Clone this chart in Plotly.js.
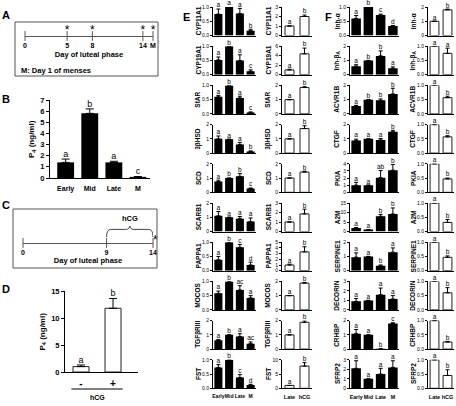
<!DOCTYPE html>
<html><head><meta charset="utf-8">
<script src="https://cdn.plot.ly/plotly-3.0.1.min.js"></script>
<style>html,body{margin:0;padding:0;background:#fff}#c{width:456px;height:406px}</style>
</head><body><div id="c"></div>
<script>
// ---------------- DATA ----------------
const timelineATicks = [0, 5, 8, 14, 15.2];
const timelineALabels = ['0', '5', '8', '14', 'M'];
const samplingDaysA = [5, 8, 14, 15.2];

const timelineCTicks = [0, 9, 14];
const timelineCLabels = ['0', '9', '14'];
const hcgStartDay = 9;
const hcgEndDay = 14;
const samplingDayC = [14];

const phases = ['Early', 'Mid', 'Late', 'M'];
const p4Luteal = [1.4, 5.8, 1.4, 0.1];
const p4LutealErr = [0.3, 0.4, 0.1, 0.03];
const p4LutealLetters = ['a', 'b', 'a', 'c'];

const hcgGroups = ['-', '+'];
const p4Hcg = [1.0, 11.8];
const p4HcgErr = [0.3, 1.8];
const p4HcgLetters = ['a', 'b'];

const treatGroups = ['Late', 'hCG'];

const eGenes = ['CYP11A1', 'CYP19A1', 'StAR', '3βHSD', 'SCD', 'SCARB1', 'PAPPA1', 'MOCOS', 'TGFβRIII', 'FST'];
const eCycleMean = [
  [0.75, 1.00, 0.77, 0.17],
  [0.52, 1.00, 0.50, 0.12],
  [0.60, 1.00, 0.56, 0.05],
  [1.00, 0.97, 0.60, 0.12],
  [0.75, 1.00, 1.12, 0.27],
  [1.10, 1.00, 0.90, 0.70],
  [0.38, 1.00, 0.82, 0.20],
  [0.58, 1.00, 0.70, 0.42],
  [0.62, 1.00, 0.88, 0.38],
  [0.73, 1.00, 0.38, 0.12]];
const eCycleSem = [
  [0.18, 0, 0.18, 0.05],
  [0.10, 0, 0.20, 0.05],
  [0.05, 0, 0.06, 0.02],
  [0.20, 0, 0.15, 0.03],
  [0.10, 0, 0.20, 0.03],
  [0.30, 0, 0.15, 0.25],
  [0.12, 0, 0.10, 0.10],
  [0.08, 0, 0.15, 0.08],
  [0.05, 0, 0.20, 0.12],
  [0.10, 0, 0.10, 0.02]];
const eCycleLetters = [
  ['a', 'a', 'a', 'b'], ['a', 'b', 'a', 'c'], ['a', 'b', 'a', 'c'], ['a', 'a', 'a', 'b'], ['a', 'b', 'b', 'c'],
  ['a', 'a', 'a', 'a'], ['a', 'b', 'c', 'd'], ['a', 'b', 'ac', 'a'], ['a', 'b', 'a', 'ac'], ['a', 'b', 'c', 'd']];
const eCycleAxisMax = [1, 1, 1, 2, 2, 2, 1, 1, 2, 1];

const eHcgMean = [[1, 2.0], [1, 4.4], [1, 1.85], [1, 1.72], [1, 1.42], [1, 1.85], [1, 3.3], [1, 1.88], [1, 1.88], [1, 7.8]];
const eHcgSem = [[0, 0.15], [0.15, 1.2], [0, 0.06], [0, 0.2], [0, 0.06], [0, 0.5], [0.15, 0.9], [0, 0.05], [0, 0.1], [0, 1.2]];
const eHcgLetters = [['a', 'b'], ['a', 'b'], ['a', 'b'], ['a', 'b'], ['a', 'b'], ['a', 'b'], ['a', 'b'], ['a', 'b'], ['a', 'b'], ['a', 'b']];
const eHcgAxisMax = [3, 6, 2, 2, 2, 3, 5, 2, 2, 10];

const fGenes = ['Inh-α', 'Inh-β<sub>A</sub>', 'ACVR1B', 'CTGF', 'PKIA', 'A2M', 'SERPINE1', 'DECORIN', 'CRHBP', 'SFRP2'];
const fCycleMean = [
  [0.60, 1.00, 0.72, 0.33],
  [0.60, 1.00, 1.32, 0.45],
  [0.55, 1.00, 0.95, 1.40],
  [0.88, 1.00, 0.92, 1.50],
  [1.00, 1.00, 2.05, 3.10],
  [1.80, 1.00, 8.00, 9.20],
  [0.95, 1.00, 0.35, 1.30],
  [0.90, 1.00, 1.60, 1.15],
  [1.08, 1.00, 0.02, 1.80],
  [2.10, 1.00, 1.50, 2.20]];
const fCycleSem = [
  [0.10, 0, 0.03, 0.02],
  [0.10, 0, 0.35, 0.10],
  [0.05, 0, 0.10, 0.40],
  [0.10, 0, 0.10, 0.10],
  [0.40, 0, 1.00, 0.80],
  [0.30, 0, 1.00, 3.20],
  [0.30, 0, 0.05, 0.30],
  [0.30, 0, 0.70, 0.35],
  [0.30, 0, 0.00, 0.05],
  [0.80, 0, 0.60, 0.70]];
const fCycleLetters = [
  ['a', 'b', 'c', 'd'], ['a', 'b', 'b', 'a'], ['a', 'b', 'b', 'b'], ['a', 'a', 'a', 'b'], ['a', 'a', 'ab', 'b'],
  ['a', 'a', 'b', 'b'], ['a', 'a', 'b', 'a'], ['a', 'a', 'a', 'a'], ['a', 'a', 'b', 'c'], ['a', 'a', 'a', 'a']];
const fCycleAxisMax = [1, 2, 2, 2, 4, 15, 2, 3, 2, 3];

const fHcgMean = [[1, 1.8], [1, 0.75], [1, 0.57], [1, 0.57], [1, 0.47], [1, 0.32], [1, 0.47], [1, 0.6], [1, 0.25], [1, 0.45]];
const fHcgSem = [[0, 0.05], [0, 0.18], [0, 0.05], [0, 0.04], [0, 0.03], [0, 0.1], [0, 0.05], [0, 0.18], [0, 0.02], [0, 0.2]];
const fHcgLetters = [['a', 'b'], ['a', 'a'], ['a', 'b'], ['a', 'b'], ['a', 'b'], ['a', 'b'], ['a', 'b'], ['a', 'b'], ['a', 'b'], ['a', 'b']];
const fHcgAxisMax = [2, 1, 1, 1, 1, 1, 1, 1, 1, 1];

// ---------------- LAYOUT HELPERS ----------------
const FONT = 'Liberation Sans, Arial, Helvetica, sans-serif';
const W = 456, H = 406;
const px = x => x / W;
const py = y => 1 - y / H;
const data = [];
const layout = {
  width: W, height: H, margin: {l: 0, r: 0, t: 0, b: 0},
  paper_bgcolor: '#fff', plot_bgcolor: 'rgba(0,0,0,0)', showlegend: false,
  colorway: ['#000'],
  font: {family: FONT, color: '#000'}, shapes: [], annotations: []
};
let axN = 0;
function addAxes(x0, x1, yTop, yBot, xo, yo) {
  axN++;
  const s = axN === 1 ? '' : String(axN);
  layout['xaxis' + s] = Object.assign({domain: [px(x0), px(x1)], anchor: 'y' + s, showgrid: false, zeroline: false, fixedrange: true, automargin: false, tickangle: 0}, xo);
  layout['yaxis' + s] = Object.assign({domain: [py(yBot), py(yTop)], anchor: 'x' + s, showgrid: false, zeroline: false, fixedrange: true, automargin: false}, yo);
  return {xa: 'x' + s, ya: 'y' + s};
}
function ann(text, x, y, size, opts) {
  layout.annotations.push(Object.assign({text: text, x: px(x), y: py(y), xref: 'paper', yref: 'paper', showarrow: false,
    font: {family: FONT, size: size, color: '#000', weight: 'bold'}, xanchor: 'center', yanchor: 'middle'}, opts || {}));
}
function tickStep(max) { return max <= 1 ? 0.5 : max <= 5 ? 1 : max <= 6 ? 2 : 5; }

function barPanel(o) {
  const step = o.step || tickStep(o.max);
  const tv = [];
  for (let v = 0; v <= o.max + 1e-9; v += step) tv.push(+v.toFixed(3));
  const ax = addAxes(o.x0, o.x1, o.yTop, o.yBot, {
    type: 'category', range: o.xrange || [-0.5, o.cats.length - 0.5], showline: true, linecolor: '#000', linewidth: 1,
    ticks: '', showticklabels: !!o.showCats, ticklabelstandoff: o.catStandoff || 2,
    tickfont: {size: o.catSize || 6, family: FONT, weight: 'bold', color: '#000'}
  }, {
    range: [0, o.max], showline: true, linecolor: '#000', linewidth: 1, ticks: 'outside', ticklen: o.tickLen || 2,
    tickwidth: 1, tickcolor: '#000', tickvals: tv, ticktext: tv.map(v => o.max <= 1 ? v.toFixed(1) : String(v)),
    tickfont: {size: o.tickSize || 5, family: FONT, weight: o.tickWeight || 'normal', color: '#000'}
  });
  const white = o.fill !== '#000';
  data.push({type: 'bar', x: o.cats, y: o.vals, xaxis: ax.xa, yaxis: ax.ya, width: o.width,
    marker: {color: o.fill, line: {color: '#222', width: white ? 1 : 0}},
    error_y: {type: 'data', array: o.errs, arrayminus: o.errs.map(() => 0), symmetric: false, color: '#000', thickness: 1, width: o.capW || 2},
    cliponaxis: false, hoverinfo: 'skip'});
  data.push({type: 'scatter', mode: 'text', x: o.cats, y: o.vals.map((v, i) => v + o.errs[i]), text: o.letters,
    textposition: 'top center', textfont: {size: o.letterSize || 6.5, family: FONT, color: '#000'},
    marker: {color: '#000'}, xaxis: ax.xa, yaxis: ax.ya, cliponaxis: false, hoverinfo: 'skip'});
  if (o.label) ann(o.label, o.labelX, (o.yTop + o.yBot) / 2, o.labelSize || 6.5, {textangle: -90});
  return ax;
}

// ---------------- PANEL A (timeline) ----------------
ann('A', 6, 15, 11);
layout.shapes.push({type: 'rect', xref: 'paper', yref: 'paper', x0: px(15), x1: px(158), y0: py(22), y1: py(76), line: {color: '#555', width: 1}});
const axA = addAxes(25, 153, 27, 36, {
  range: [0, 15.2], showline: true, linecolor: '#555', linewidth: 1, ticks: '', tickvals: timelineATicks, ticktext: timelineALabels,
  tickfont: {size: 7, family: FONT, weight: 'bold', color: '#000'}, ticklabelstandoff: 3,
  title: {text: 'Day of luteal phase', font: {size: 7.5, family: FONT, weight: 'bold', color: '#000'}, standoff: 3}
}, {range: [0, 1], visible: false});
data.push({type: 'scatter', mode: 'markers', x: timelineATicks, y: timelineATicks.map(() => 0), xaxis: axA.xa, yaxis: axA.ya,
  marker: {symbol: 'line-ns', size: 7, line: {color: '#555', width: 1}}, cliponaxis: false, hoverinfo: 'skip'});
data.push({type: 'scatter', mode: 'text', x: samplingDaysA, y: samplingDaysA.map(() => 0.55), text: samplingDaysA.map(() => '*'),
  textposition: 'middle center', textfont: {size: 12, family: FONT, color: '#000'}, xaxis: axA.xa, yaxis: axA.ya, cliponaxis: false, hoverinfo: 'skip'});
ann('M: Day 1 of menses', 19, 70, 7.5, {xanchor: 'left'});

// ---------------- PANEL B ----------------
ann('B', 6, 99, 11);
barPanel({x0: 50, x1: 150, yTop: 100, yBot: 178, cats: phases, vals: p4Luteal, errs: p4LutealErr, letters: p4LutealLetters,
  max: 7, step: 1, fill: '#000', width: 0.7, xrange: [-0.65, 3.5], showCats: true, catSize: 7, catStandoff: 4, tickSize: 7.5, tickWeight: 'bold',
  tickLen: 3, letterSize: 9, capW: 4, label: 'P<sub>4</sub> (ng/ml)', labelX: 32, labelSize: 8});

// ---------------- PANEL C (timeline with hCG) ----------------
ann('C', 6, 205, 11);
layout.shapes.push({type: 'rect', xref: 'paper', yref: 'paper', x0: px(13), x1: px(157), y0: py(209), y1: py(268), line: {color: '#555', width: 1}});
const axC = addAxes(23, 153, 226, 243, {
  range: [0, 14], showline: true, linecolor: '#555', linewidth: 1, ticks: '', tickvals: timelineCTicks, ticktext: timelineCLabels,
  tickfont: {size: 7, family: FONT, weight: 'bold', color: '#000'}, ticklabelstandoff: 3,
  title: {text: 'Day of luteal phase', font: {size: 7.5, family: FONT, weight: 'bold', color: '#000'}, standoff: 2}
}, {range: [0, 1], visible: false});
data.push({type: 'scatter', mode: 'markers', x: timelineCTicks, y: timelineCTicks.map(() => 0), xaxis: axC.xa, yaxis: axC.ya,
  marker: {symbol: 'line-ns', size: 7, line: {color: '#555', width: 1}}, cliponaxis: false, hoverinfo: 'skip'});
data.push({type: 'scatter', mode: 'text', x: samplingDayC, y: samplingDayC.map(() => 0.1), text: ['*'],
  textposition: 'middle right', textfont: {size: 12, family: FONT, color: '#000'}, xaxis: axC.xa, yaxis: axC.ya, cliponaxis: false, hoverinfo: 'skip'});
(function () {
  const s = hcgStartDay, e = hcgEndDay, m = (s + e) / 2, lo = 0.35, mid = 0.8, tip = 1.05, r = 0.45;
  layout.shapes.push({type: 'path', xref: axC.xa, yref: axC.ya, line: {color: '#444', width: 1},
    path: `M ${s},${lo} Q ${s},${mid} ${s + r},${mid} L ${m - r},${mid} Q ${m},${mid} ${m},${tip} Q ${m},${mid} ${m + r},${mid} L ${e - r},${mid} Q ${e},${mid} ${e},${lo}`});
  layout.annotations.push({text: 'hCG', x: m, xref: axC.xa, y: py(219), yref: 'paper', showarrow: false, yanchor: 'middle',
    font: {family: FONT, size: 7.5, weight: 'bold', color: '#000'}});
})();

// ---------------- PANEL D ----------------
ann('D', 6, 289, 11);
const axD = barPanel({x0: 65, x1: 138, yTop: 291, yBot: 372, cats: hcgGroups, vals: p4Hcg, errs: p4HcgErr, letters: p4HcgLetters,
  max: 15, step: 5, fill: '#fff', width: 0.5, xrange: [-0.5, 1.78], showCats: true, catSize: 10, catStandoff: 2, tickSize: 7.5, tickWeight: 'bold',
  tickLen: 3, letterSize: 9, capW: 4, label: 'P<sub>4</sub> (ng/ml)', labelX: 42, labelSize: 8});
layout.shapes.push({type: 'line', xref: axD.xa, yref: 'paper', x0: -0.3, x1: 1.3, y0: py(389), y1: py(389), line: {color: '#000', width: 1}});
layout.annotations.push({text: 'hCG', x: 0.5, xref: axD.xa, y: py(397), yref: 'paper', showarrow: false, yanchor: 'middle',
  font: {family: FONT, size: 7, weight: 'bold', color: '#000'}});

// ---------------- PANELS E & F (gene grids) ----------------
ann('E', 186, 17, 11);
ann('F', 328, 17, 11);
const ROW_TOP = 7, ROW_PITCH = 39.2, ROW_H = 28.5;
const cols = [
  {x0: 213, x1: 256, labelX: 198, genes: eGenes, mean: eCycleMean, sem: eCycleSem, let: eCycleLetters, max: eCycleAxisMax, cats: phases, fill: '#000', width: 0.75, catSize: 5},
  {x0: 282, x1: 312, labelX: 268, genes: eGenes, mean: eHcgMean, sem: eHcgSem, let: eHcgLetters, max: eHcgAxisMax, cats: treatGroups, fill: '#fff', width: 0.6, catSize: 5.5},
  {x0: 350, x1: 399, labelX: 337, genes: fGenes, mean: fCycleMean, sem: fCycleSem, let: fCycleLetters, max: fCycleAxisMax, cats: phases, fill: '#000', width: 0.78, catSize: 5.3},
  {x0: 428, x1: 454, labelX: 413, genes: fGenes, mean: fHcgMean, sem: fHcgSem, let: fHcgLetters, max: fHcgAxisMax, cats: treatGroups, fill: '#fff', width: 0.68, catSize: 5.5}
];
cols.forEach(c => {
  c.genes.forEach((g, r) => {
    const yTop = ROW_TOP + r * ROW_PITCH;
    barPanel({x0: c.x0, x1: c.x1, yTop: yTop, yBot: yTop + ROW_H, cats: c.cats, vals: c.mean[r], errs: c.sem[r], letters: c.let[r],
      max: c.max[r], fill: c.fill, width: c.width, showCats: r === c.genes.length - 1, catSize: c.catSize, catStandoff: 3,
      label: g, labelX: c.labelX, labelSize: 6.5});
  });
});

Plotly.newPlot('c', data, layout, {staticPlot: true, displayModeBar: false});
</script>
</body></html>
